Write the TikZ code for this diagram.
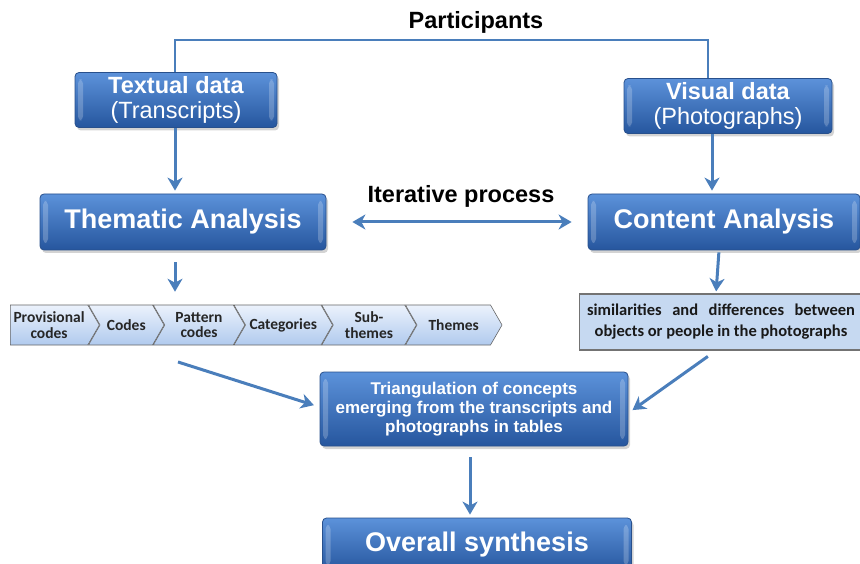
\documentclass[tikz,border=0pt]{standalone}
\usepackage{fontspec}
\setmainfont{Liberation Sans}
\newfontfamily\calibri{Carlito}
\usetikzlibrary{positioning}
\usetikzlibrary{arrows.meta}
\usetikzlibrary{shapes.symbols, shadows, calc}

\definecolor{boxtop}{RGB}{92,146,218}
\definecolor{boxbot}{RGB}{38,86,158}
\definecolor{boxrim}{RGB}{40,80,140}
\definecolor{flowblue}{RGB}{74,126,187}
\definecolor{chevtop}{RGB}{236,242,252}
\definecolor{chevbot}{RGB}{176,202,238}
\definecolor{notefill}{RGB}{198,217,241}

\begin{document}
\begin{tikzpicture}[x=1pt, y=-1pt,
			bluebox/.style = {rectangle, rounded corners=4pt, draw=boxrim, line width=0.8pt,
					top color=boxtop, bottom color=boxbot, text=white, align=center,
					drop shadow={shadow xshift=2pt, shadow yshift=-3pt, opacity=.35},
					path picture={
							\fill[white, opacity=.22] ([xshift=3pt,yshift=-7pt]path picture bounding box.north west)
							rectangle ([xshift=8pt,yshift=7pt]path picture bounding box.south west);
							\fill[white, opacity=.22] ([xshift=-3pt,yshift=-7pt]path picture bounding box.north east)
							rectangle ([xshift=-8pt,yshift=7pt]path picture bounding box.south east);
						}},
			chev/.style   = {signal, signal to=east, signal from=west, signal pointer angle=120,
					draw=gray!80!black, line width=0.6pt, top color=chevtop, bottom color=chevbot,
					minimum height=40pt, inner xsep=1pt, inner ysep=1pt, align=center, text=black!85,
					text width=#1, font=\calibri\bfseries\fontsize{15.5}{15.5}\selectfont},
			flow/.style   = {-{Stealth[length=13pt,width=15pt,inset=4pt]}, draw=flowblue, line width=3pt},
			big/.style    = {font=\bfseries\fontsize{27}{30}\selectfont},
			mid/.style    = {font=\fontsize{23.5}{25}\selectfont}
			]
			\useasboundingbox (0,0) rectangle (860,564);

			% top row
			\node[font=\bfseries\fontsize{23.5}{26}\selectfont] (part) at (476,22) {Participants};
			\node[bluebox, mid, minimum width=202pt, minimum height=55pt] (textual) at (176,100)
			{\textbf{Textual data}\\(Transcripts)};
			\node[bluebox, mid, minimum width=208pt, minimum height=55pt] (visual) at (728,106)
			{\textbf{Visual data}\\(Photographs)};
			\coordinate (pl) at (175,40);
			\coordinate (pr) at (708,40);
			\draw[flowblue, line width=2.5pt] (textual.north -| pl) -- (pl) -- (pr) -- (visual.north -| pr);

			% analysis row
			\node[bluebox, big, minimum width=286pt, minimum height=56pt] (thematic) at (183,222) {Thematic Analysis};
			\node[bluebox, big, minimum width=272pt, minimum height=56pt] (content) at (724,222) {Content Analysis};
			\node[font=\bfseries\fontsize{23.5}{26}\selectfont] (iter) at (461,196) {Iterative process};
			\draw[flow, {Stealth[length=13pt,width=15pt,inset=4pt]}-{Stealth[length=13pt,width=15pt,inset=4pt]}]
			([xshift=26pt]thematic.east) -- ([xshift=-16pt]content.west);

			\draw[flow, shorten >=3pt] (textual.south -| pl) -- (thematic.north -| pl);
			\draw[flow, shorten >=3pt] ([xshift=-16pt]visual.south) -- ([xshift=-12pt]content.north);

			% coding steps
			\node[chev=75.5pt, signal from=nowhere, anchor=west] (prov) at (10,325) {Provisional\\codes};
			\node[chev=50.5pt, right=0pt of prov] (codes) {Codes};
			\node[chev=66.5pt, right=0pt of codes] (pattern) {Pattern\\codes};
			\node[chev=73.5pt, right=0pt of pattern] (categ) {Categories};
			\node[chev=69.5pt, right=0pt of categ] (subth) {Sub-\\themes};
			\node[chev=71.5pt, right=0pt of subth] (themes) {Themes};

			\node[rectangle, draw=gray!90!black, line width=1.2pt, fill=notefill, minimum width=283pt,
				minimum height=56pt, align=center, text=black!90,
				font=\calibri\bfseries\fontsize{16.5}{21}\selectfont] (similar) at (721,322)
			{\makebox[268pt][s]{similarities and differences between}\\objects or people in the photographs};

			\draw[flow, shorten <=12pt, shorten >=13pt] (thematic.south -| pl) -- (prov.north -| pl);
			\draw[flow, shorten <=2pt, shorten >=2pt] ([xshift=-5pt]content.south) -- ([xshift=-5pt]similar.north);

			% triangulation and synthesis
			\node[bluebox, minimum width=308pt, minimum height=74pt,
				font=\bfseries\fontsize{17}{19}\selectfont] (triang) at (474,409)
			{Triangulation of concepts\\emerging from the transcripts and\\photographs in tables};
			\node[bluebox, big, minimum width=309pt, minimum height=54pt] (overall) at (477,545) {Overall synthesis};

			\coordinate (fromcodes) at (178,362);
			\draw[flow, shorten >=6pt] (fromcodes) -- ([yshift=2pt]triang.west);
			\draw[flow, shorten <=10pt, shorten >=5pt] ([xshift=-5pt]similar.south) -- ([yshift=-4pt]triang.east);
			\draw[flow, shorten <=11pt, shorten >=3pt] ([xshift=-4pt]triang.south) -- ([xshift=-7pt]overall.north);
		\end{tikzpicture}
\end{document}
